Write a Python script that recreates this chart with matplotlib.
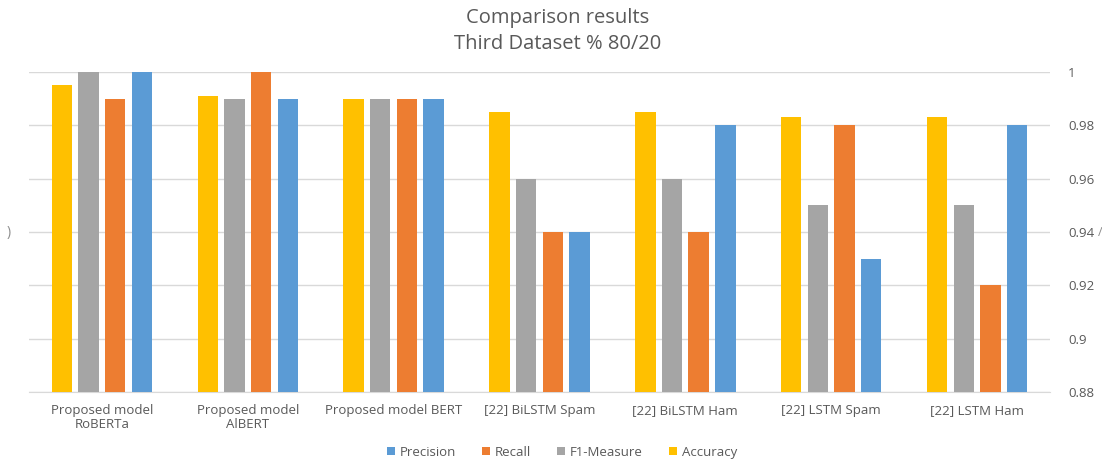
import numpy as np
import matplotlib.pyplot as plt

plt.rcParams['font.family'] = ['Open Sans', 'DejaVu Sans']

modelos = ['Proposed model\nRoBERTa', 'Proposed model\nAlBERT', 'Proposed model BERT',
           '[22] BiLSTM Spam', '[22] BiLSTM Ham', '[22] LSTM Spam', '[22] LSTM Ham']

precision = [1.0, 0.99, 0.99, 0.94, 0.98, 0.93, 0.98]
recall = [0.99, 1.0, 0.99, 0.94, 0.94, 0.98, 0.92]
f1 = [1.0, 0.99, 0.99, 0.96, 0.96, 0.95, 0.95]
accuracy = [0.995, 0.991, 0.99, 0.985, 0.985, 0.983, 0.983]

series = [('Accuracy', accuracy, '#FFC000'),
          ('F1-Measure', f1, '#A5A5A5'),
          ('Recall', recall, '#ED7D31'),
          ('Precision', precision, '#5B9BD5')]

fig = plt.figure(figsize=(11.02, 4.70), dpi=100)
ax = fig.add_axes([0.0263, 0.166, 0.9265, 0.681])

x = np.arange(len(modelos))
paso = 0.183
ancho = 0.14
barras = {}
for k, (nombre, vals, color) in enumerate(series):
    barras[nombre] = ax.bar(x + (k - 1.5) * paso, vals, width=ancho, color=color,
                            label=nombre, zorder=3)

ax.set_xlim(-0.5, len(modelos) - 0.5)
ax.set_ylim(0.88, 1.0)
ax.set_yticks(np.arange(0.88, 1.001, 0.02))
ax.set_yticklabels(['0.88', '0.9', '0.92', '0.94', '0.96', '0.98', '1'])
ax.yaxis.tick_right()
ax.tick_params(axis='y', length=0, pad=13, labelsize=9.5, labelcolor='#595959')
ax.tick_params(axis='x', length=0, pad=9, labelsize=9.5, labelcolor='#595959')
ax.set_xticks(x)
ax.set_xticklabels(modelos, linespacing=1.05, va='top')
ax.grid(axis='y', color='#D9D9D9', linewidth=1, zorder=0)
for lado in ['top', 'left', 'right']:
    ax.spines[lado].set_visible(False)
ax.spines['bottom'].set_color('#D9D9D9')

fig.text(0.506, 0.962, 'Comparison results', ha='center', va='center',
         fontsize=14.5, color='#595959')
fig.text(0.506, 0.906, 'Third Dataset % 80/20', ha='center', va='center',
         fontsize=14.5, color='#595959')
# restos del eje recortado
fig.text(0.008, 0.506, ')', ha='center', va='center', fontsize=10, color='#8c8c8c')
fig.text(0.998, 0.506, '/', ha='center', va='center', fontsize=9, color='#8c8c8c')

orden = ['Precision', 'Recall', 'F1-Measure', 'Accuracy']
fig.legend([barras[n] for n in orden], orden, loc='center', bbox_to_anchor=(0.51, 0.038),
           ncol=4, frameon=False, fontsize=9.5, handlelength=0.6, handleheight=0.6,
           handletextpad=0.35, columnspacing=2.0, labelcolor='#595959')

fig.savefig('out.png', dpi=100)
